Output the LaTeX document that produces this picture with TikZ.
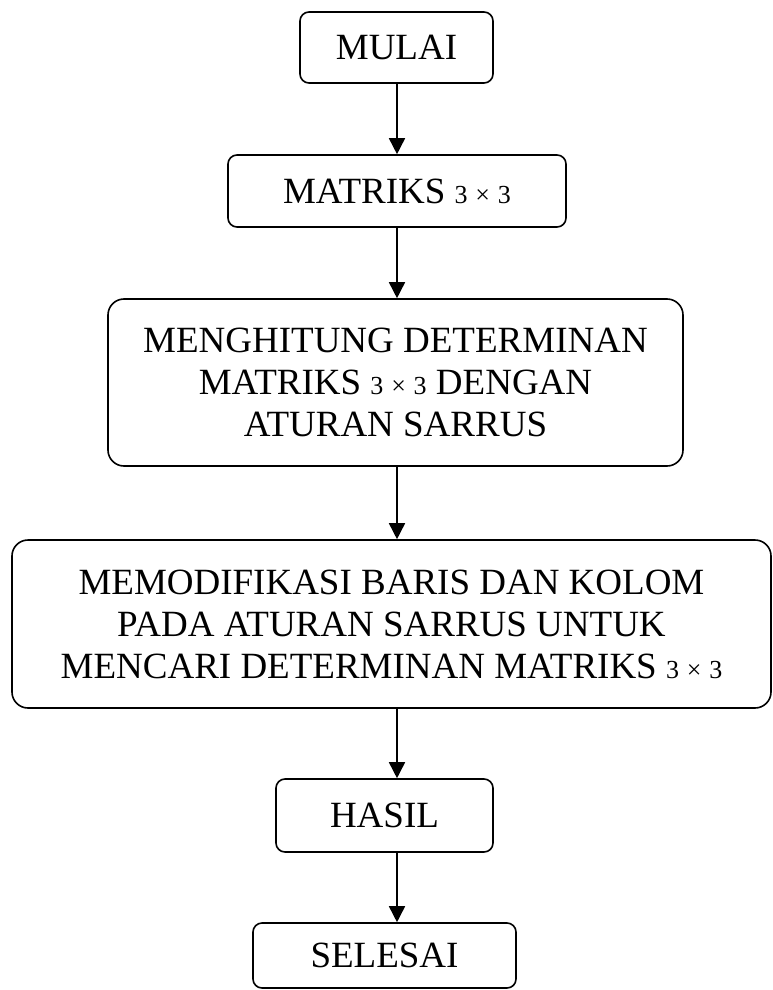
\documentclass[tikz,border=0pt]{standalone}
\usepackage{fontspec}
\setmainfont{Liberation Serif}
\usepackage{tikz}
\usetikzlibrary{arrows.meta, positioning}
\newcommand{\ordo}{{\fontsize{26}{30}\selectfont 3\hspace{0.3em}×\hspace{0.3em}3}}

\begin{document}
\begin{tikzpicture}[x=1pt, y=-1pt, font=\fontsize{37}{42}\selectfont,
    b/.style={draw, line width=1.6pt, rounded corners=9pt, inner sep=0pt, align=center},
    bb/.style={b, rounded corners=16pt},
    arr/.style={-{Triangle[length=16pt, width=16pt]}, line width=1.6pt}]
    \useasboundingbox (0,0) rectangle (772,990);
    \coordinate (ax) at (397,0);
    \node[b, minimum width=193pt, minimum height=71pt] (s) at (396.5,47.5) {MULAI};
    \node[b, minimum width=338pt, minimum height=72pt] (m) at (397,191) {MATRIKS \ordo};
    \node[bb, minimum width=575pt, minimum height=167pt] (h) at (395.5,382.5)
        {MENGHITUNG DETERMINAN\\MATRIKS \ordo{} DENGAN\\ATURAN SARRUS};
    \node[bb, minimum width=759pt, minimum height=168pt] (p) at (391.5,624)
        {MEMODIFIKASI BARIS DAN KOLOM\\PADA ATURAN SARRUS UNTUK\\MENCARI DETERMINAN MATRIKS \ordo};
    \node[b, minimum width=217pt, minimum height=73pt] (r) at (384.5,815.5) {HASIL};
    \node[b, minimum width=263pt, minimum height=65pt] (e) at (384.5,955.5) {SELESAI};
    \draw[arr] (s.south -| ax) -- (m.north -| ax);
    \draw[arr] (m.south -| ax) -- (h.north -| ax);
    \draw[arr] (h.south -| ax) -- (p.north -| ax);
    \draw[arr] (p.south -| ax) -- (r.north -| ax);
    \draw[arr] (r.south -| ax) -- (e.north -| ax);
  \end{tikzpicture}
\end{document}
